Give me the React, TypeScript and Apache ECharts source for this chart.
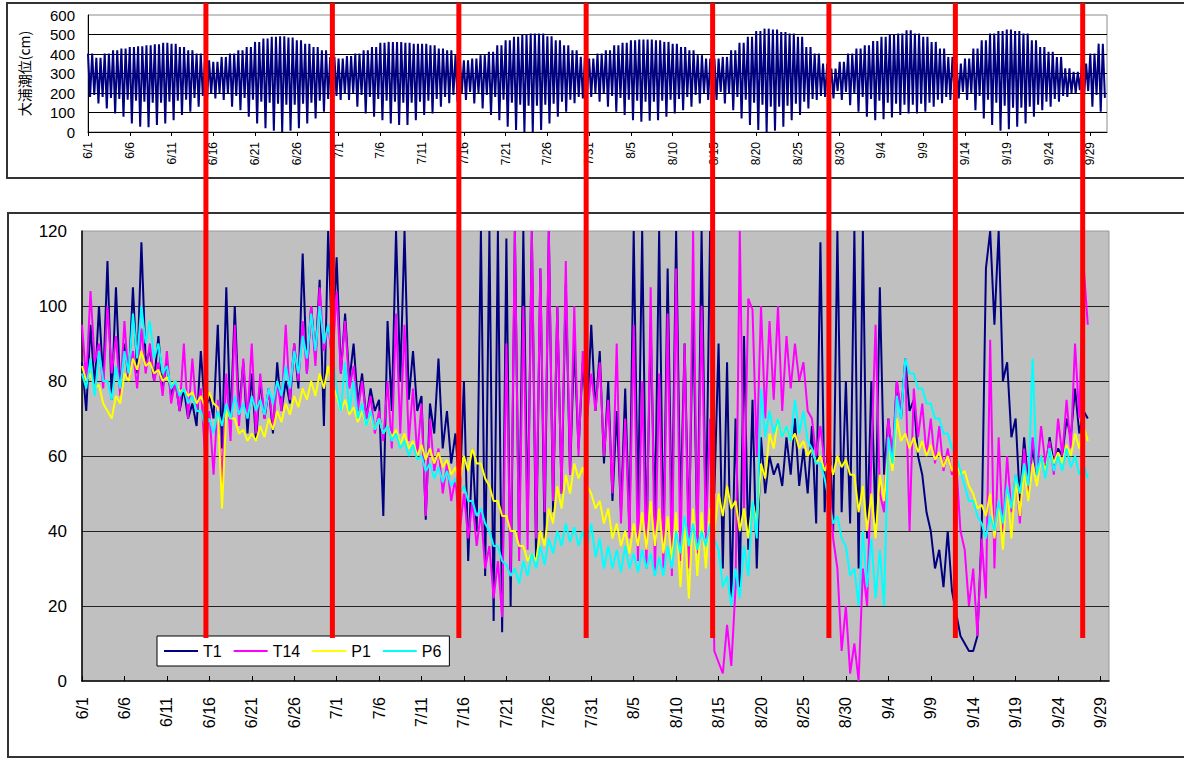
import { useEffect, useRef } from "react";
import * as echarts from "echarts";

// ---------- tick labels ----------
const dateLabels = [
  "6/1", "6/6", "6/11", "6/16", "6/21", "6/26", "7/1", "7/6", "7/11", "7/16", "7/21", "7/26",
  "7/31", "8/5", "8/10", "8/15", "8/20", "8/25", "8/30", "9/4", "9/9", "9/14", "9/19", "9/24", "9/29",
];
const LABEL_STEP = 5; // days between labels
const seriesNames = ["T1", "T14", "P1", "P6"];

// ---------- tide at Oura (cm): one value per day, d0 = 6/1 ----------
const tideHigh = [
  402, 380, 402, 419, 428, 436, 440, 445, 450, 457,
  453, 436, 419, 402, 368, 360, 385, 402, 419, 436,
  462, 479, 488, 491, 484, 470, 453, 436, 419, 385,
  377, 389, 402, 419, 436, 457, 462, 462, 458, 453,
  453, 445, 428, 419, 394, 368, 377, 394, 411, 445,
  470, 488, 501, 505, 505, 491, 470, 445, 419, 385,
  377, 402, 419, 445, 457, 470, 474, 474, 470, 462,
  453, 436, 419, 394, 377, 377, 385, 419, 457, 488,
  518, 530, 525, 513, 505, 488, 436, 402, 351, 325,
  360, 402, 428, 445, 467, 488, 501, 505, 522, 505,
  488, 462, 428, 385, 351, 377, 428, 470, 505, 518,
  525, 518, 505, 470, 436, 411, 385, 326, 309, 351,
  402, 453,
];
const tideLowDeep = [
  180, 147, 121, 95, 78, 44, 27, 24, 36, 44,
  61, 87, 104, 130, 164, 172, 164, 130, 112, 78,
  44, 19, 7, 0, 7, 19, 44, 70, 104, 138,
  164, 164, 130, 95, 78, 61, 44, 36, 36, 61,
  87, 95, 130, 147, 155, 164, 147, 121, 87, 61,
  27, 10, 0, 0, 10, 44, 78, 104, 147, 172,
  180, 155, 130, 104, 87, 61, 53, 58, 61, 78,
  95, 112, 130, 147, 164, 164, 147, 112, 70, 36,
  10, 0, 7, 27, 61, 87, 121, 164, 180, 172,
  164, 138, 104, 78, 61, 65, 75, 87, 95, 95,
  104, 130, 147, 164, 172, 164, 112, 70, 36, 7,
  14, 27, 44, 78, 112, 130, 155, 180, 198, 180,
  130, 104,
];
const tideLowShallow = [
  190, 180, 175, 170, 165, 160, 155, 150, 150, 155,
  160, 165, 175, 185, 195, 200, 195, 185, 175, 165,
  155, 150, 145, 140, 140, 145, 150, 160, 170, 185,
  195, 200, 190, 180, 170, 160, 155, 150, 150, 155,
  160, 170, 180, 190, 200, 205, 200, 190, 180, 165,
  150, 140, 135, 135, 140, 145, 155, 165, 180, 195,
  200, 195, 185, 175, 165, 160, 155, 155, 160, 165,
  170, 180, 190, 200, 205, 205, 195, 180, 165, 150,
  140, 130, 130, 135, 145, 155, 170, 185, 200, 210,
  205, 195, 180, 170, 160, 150, 145, 140, 140, 145,
  150, 165, 180, 195, 205, 200, 185, 165, 150, 135,
  125, 125, 130, 140, 155, 170, 185, 200, 215, 210,
  190, 175,
];

// ---------- water levels: two readings per day (0h, 12h) ----------
const t1Jun = [
  85, 72, 95, 78, 100, 80, 112, 75, 105, 78, 90, 80, 105, 82, 117, 85, 88, 80, 92, 78,
  85, 76, 80, 72, 78, 70, 74, 68, 88, 72, 76, 70, 95, 62, 105, 68, 100, 72, 85, 66,
  82, 64, 80, 70, 78, 66, 85, 72, 80, 74, 90, 78, 114, 82, 100, 86, 107, 68, 120, 88,
];
const t1Jul = [
  113, 82, 98, 80, 90, 74, 82, 70, 78, 72, 75, 44, 96, 72, 120, 80, 120, 75, 88, 72,
  76, 43, 74, 66, 86, 62, 72, 58, 66, 50, 80, 32, 62, 40, 120, 28, 120, 16, 120, 13,
  118, 20, 120, 35, 120, 40, 120, 32, 110, 38, 120, 45, 100, 50, 106, 55, 90, 62, 85, 70, 95, 72,
];
const t1Aug = [
  88, 58, 80, 48, 72, 45, 78, 40, 120, 44, 120, 36, 95, 42, 120, 34, 110, 40, 120, 45,
  90, 38, 100, 36, 120, 40, 120, 50, 90, 30, 85, 21, 70, 25, 92, 35, 75, 30, 65, 50,
  60, 55, 58, 52, 65, 55, 70, 52, 62, 50, 68, 42, 117, 45, 70, 40, 120, 45, 80, 42, 120, 30,
];
const t1Sep = [
  120, 38, 80, 42, 105, 55, 70, 58, 80, 70, 86, 72, 75, 60, 55, 45, 40, 30, 35, 25,
  40, 24, 18, 12, 10, 8, 8, 12, 40, 110, 120, 95, 120, 80, 85, 65, 70, 48, 65, 52,
  62, 55, 60, 56, 65, 58, 62, 60, 70, 65, 78, 66, 72, 70,
];

const t14Jun = [
  95, 80, 104, 85, 90, 78, 100, 82, 92, 76, 96, 80, 88, 78, 94, 82, 90, 80, 85, 76,
  88, 74, 80, 72, 90, 70, 86, 72, 78, 60, 72, 55, 75, 52, 82, 64, 95, 68, 86, 70,
  90, 66, 82, 70, 78, 68, 80, 72, 95, 75, 90, 80, 96, 82, 100, 84, 105, 88, 95, 85,
];
const t14Jul = [
  104, 82, 96, 78, 84, 72, 80, 70, 76, 66, 72, 64, 80, 62, 98, 66, 95, 64, 78, 60,
  74, 44, 70, 56, 62, 50, 58, 48, 54, 40, 50, 38, 48, 36, 45, 30, 36, 22, 32, 17,
  90, 28, 120, 32, 100, 35, 120, 38, 110, 45, 120, 48, 100, 50, 112, 55, 100, 60, 88, 70, 82, 72,
];
const t14Aug = [
  85, 60, 75, 50, 90, 42, 70, 38, 95, 32, 80, 30, 105, 28, 82, 30, 98, 28, 110, 32,
  90, 30, 120, 34, 100, 38, 70, 8, 5, 2, 15, 4, 25, 120, 45, 102, 99, 60, 100, 70,
  96, 75, 100, 72, 92, 78, 90, 80, 85, 72, 70, 60, 68, 58, 55, 38, 30, 8, 20, 2, 10, 0,
];
const t14Sep = [
  30, 20, 60, 95, 50, 45, 70, 60, 80, 72, 85, 40, 78, 65, 74, 60, 70, 58, 68, 56,
  62, 55, 58, 40, 35, 20, 30, 12, 38, 22, 91, 30, 65, 40, 60, 45, 55, 42, 62, 50,
  65, 55, 68, 58, 64, 55, 70, 60, 75, 62, 90, 70, 111, 95,
];

const p1Jun = [
  84, 80, 82, 78, 79, 74, 72, 70, 76, 74, 82, 80, 86, 83, 88, 84, 85, 82, 83, 80,
  81, 79, 80, 77, 78, 76, 77, 74, 76, 73, 77, 74, 73, 46, 72, 70, 70, 66, 67, 64,
  66, 64, 68, 65, 70, 67, 72, 69, 74, 71, 76, 73, 78, 75, 80, 76, 82, 78, 84, 79,
];
const p1Jul = [
  76, 72, 75, 71, 73, 69, 72, 68, 71, 67, 70, 66, 68, 65, 67, 63, 66, 62, 64, 60,
  63, 59, 62, 58, 61, 57, 59, 55, 57, 53, 60, 56, 62, 58, 58, 54, 52, 48, 48, 44,
  44, 40, 40, 36, 36, 32, 34, 32, 40, 36, 46, 42, 52, 46, 55, 50, 58, 54, 57, 52, 50, 46,
];
const p1Aug = [
  48, 42, 46, 38, 42, 36, 40, 34, 42, 36, 45, 35, 48, 36, 46, 34, 44, 32, 45, 25,
  42, 22, 46, 28, 45, 30, 46, 40, 50, 44, 52, 46, 48, 40, 46, 38, 48, 42, 58, 54,
  66, 62, 70, 65, 68, 64, 66, 62, 64, 60, 62, 58, 60, 56, 59, 55, 60, 57, 59, 55, 55, 45,
];
const p1Sep = [
  52, 40, 50, 38, 55, 48, 62, 56, 70, 64, 66, 62, 65, 61, 64, 60, 63, 59, 61, 57,
  60, 56, 58, 55, 56, 52, 50, 46, 47, 44, 50, 38, 48, 35, 52, 38, 54, 44, 56, 48,
  58, 52, 60, 56, 62, 58, 61, 58, 63, 60, 66, 62, 68, 64,
];

const p6Jun = [
  82, 78, 86, 76, 88, 80, 80, 75, 84, 78, 88, 82, 98, 86, 100, 90, 96, 86, 90, 82,
  84, 78, 80, 76, 78, 74, 76, 72, 72, 68, 70, 66, 72, 68, 74, 70, 76, 71, 74, 70,
  76, 72, 75, 71, 78, 74, 80, 76, 84, 78, 88, 82, 92, 86, 98, 88, 100, 90, 95, 88,
];
const p6Jul = [
  78, 72, 85, 72, 80, 70, 74, 68, 72, 67, 70, 66, 68, 64, 66, 62, 64, 60, 63, 59,
  60, 56, 58, 54, 57, 53, 56, 52, 54, 50, 52, 48, 48, 44, 46, 42, 40, 36, 36, 32,
  31, 28, 30, 26, 32, 28, 34, 30, 36, 31, 38, 34, 40, 36, 42, 37, 41, 36, 40, 35, 42, 33,
];
const p6Aug = [
  38, 30, 36, 30, 35, 29, 36, 30, 34, 29, 35, 30, 34, 28, 33, 28, 36, 30, 40, 34,
  44, 36, 42, 35, 40, 36, 42, 38, 35, 25, 28, 20, 30, 22, 36, 28, 48, 38, 78, 65,
  72, 66, 70, 65, 68, 64, 75, 66, 72, 64, 62, 58, 58, 54, 48, 42, 44, 38, 36, 28, 30, 20,
];
const p6Sep = [
  40, 25, 38, 22, 35, 20, 65, 58, 76, 70, 86, 82, 82, 78, 78, 74, 74, 70, 70, 66,
  66, 62, 60, 56, 52, 48, 48, 44, 42, 38, 44, 40, 48, 42, 52, 46, 55, 50, 58, 52,
  86, 55, 60, 54, 62, 56, 60, 56, 62, 57, 60, 55, 58, 54,
];

// red marker lines (in days from 6/1, on the lower chart's scale)
const redLineDays = [14.6, 29.5, 44.4, 59.4, 74.3, 88.0, 102.9, 117.9];
const RED_LINE_END_VALUE = 11.5;

const FONT = '"Liberation Sans", Arial, "Noto Sans CJK JP", sans-serif';

function halfDaily(values: number[]): [number, number][] {
  return values.map((v, i) => [i / 2, v]);
}

function tideSeries(): [number, number][] {
  const out: [number, number][] = [];
  for (let d = 0; d < tideHigh.length; d++) {
    out.push([d, tideHigh[d]]);
    if (tideLowDeep[d] !== undefined) out.push([d + 0.25, tideLowDeep[d]]);
    if (d < tideLowShallow.length) {
      out.push([d + 0.5, tideHigh[d]]);
      out.push([d + 0.75, tideLowShallow[d]]);
    }
  }
  return out.filter((p) => p[0] <= 122);
}

export default function App() {
  const ref = useRef<HTMLDivElement>(null);

  useEffect(() => {
    if (!ref.current) return;
    const chart = echarts.init(ref.current, undefined, { renderer: "svg" });
    const tickValues = dateLabels.map((_, i) => i * LABEL_STEP);
    const fmt = (v: number) => dateLabels[Math.round(v / LABEL_STEP)] ?? "";

    const t1 = halfDaily([...t1Jun, ...t1Jul, ...t1Aug, ...t1Sep]);
    const t14 = halfDaily([...t14Jun, ...t14Jul, ...t14Aug, ...t14Sep]);
    const p1 = halfDaily([...p1Jun, ...p1Jul, ...p1Aug, ...p1Sep]);
    const p6 = halfDaily([...p6Jun, ...p6Jul, ...p6Aug, ...p6Sep]);

    const lineSeries = (name: string, data: [number, number][], color: string) => ({
      name,
      type: "line",
      xAxisIndex: 1,
      yAxisIndex: 1,
      data,
      symbol: "none",
      lineStyle: { color, width: 2 },
      itemStyle: { color },
      clip: true,
    });

    chart.setOption({
      animation: false,
      backgroundColor: "#ffffff",
      textStyle: { fontFamily: FONT },
      grid: [
        { left: 88, top: 15, width: 1019, height: 117, show: true, backgroundColor: "#ffffff", borderColor: "#8c8c8c", borderWidth: 1 },
        { left: 82, top: 231, width: 1027, height: 450, show: true, backgroundColor: "#c0c0c0", borderColor: "#9a9a9a", borderWidth: 1 },
      ],
      legend: {
        data: seriesNames,
        left: 157,
        top: 636,
        orient: "horizontal",
        icon: "rect",
        itemWidth: 34,
        itemHeight: 2,
        itemGap: 12,
        padding: [7, 8, 7, 7],
        backgroundColor: "#ffffff",
        borderColor: "#000000",
        borderWidth: 1,
        borderRadius: 0,
        textStyle: { fontSize: 16, color: "#000", fontFamily: FONT },
      },
      xAxis: [
        {
          gridIndex: 0,
          type: "value",
          min: 0,
          max: 122,
          splitLine: { show: false },
          axisLine: { lineStyle: { color: "#000", width: 1 } },
          axisTick: { show: true, length: 4, customValues: tickValues, lineStyle: { color: "#000" } },
          axisLabel: {
            customValues: tickValues,
            formatter: fmt,
            rotate: 90,
            fontSize: 12,
            color: "#000",
            margin: 10,
            fontFamily: FONT,
          },
        },
        {
          gridIndex: 1,
          type: "value",
          min: 0,
          max: 121,
          splitLine: { show: false },
          axisLine: { lineStyle: { color: "#000", width: 1.5 } },
          axisTick: { show: true, inside: true, length: 5, customValues: tickValues, lineStyle: { color: "#000" } },
          axisLabel: {
            customValues: tickValues,
            formatter: fmt,
            rotate: 90,
            fontSize: 16,
            color: "#000",
            margin: 16,
            fontFamily: FONT,
          },
        },
      ],
      yAxis: [
        {
          gridIndex: 0,
          type: "value",
          min: 0,
          max: 600,
          interval: 100,
          name: "大浦潮位(cm)",
          nameLocation: "middle",
          nameGap: 57,
          nameTextStyle: { fontSize: 14, color: "#000", fontFamily: '"Noto Sans CJK JP", sans-serif' },
          axisLine: { show: true, lineStyle: { color: "#000", width: 1 } },
          axisTick: { show: false },
          axisLabel: { fontSize: 15, color: "#000", margin: 13, fontFamily: FONT },
          splitLine: { show: true, showMaxLine: false, showMinLine: false, lineStyle: { color: "#000", width: 1 } },
        },
        {
          gridIndex: 1,
          type: "value",
          min: 0,
          max: 120,
          interval: 20,
          axisLine: { show: true, lineStyle: { color: "#000", width: 1.5 } },
          axisTick: { show: false },
          axisLabel: { fontSize: 17, color: "#000", margin: 15, fontFamily: FONT },
          splitLine: { show: true, showMaxLine: false, showMinLine: false, lineStyle: { color: "#222", width: 1 } },
        },
      ],
      series: [
        {
          name: "大浦潮位",
          type: "line",
          xAxisIndex: 0,
          yAxisIndex: 0,
          data: tideSeries(),
          symbol: "none",
          lineStyle: { color: "#000080", width: 2 },
          clip: true,
        },
        lineSeries("T1", t1, "#000080"),
        lineSeries("T14", t14, "#ff00ff"),
        lineSeries("P1", p1, "#ffff00"),
        lineSeries("P6", p6, "#00ffff"),
      ],
    });

    const yEnd = chart.convertToPixel({ yAxisIndex: 1 }, RED_LINE_END_VALUE) as number;
    const redLines = redLineDays.map((d) => {
      const x = chart.convertToPixel({ xAxisIndex: 1 }, d) as number;
      return {
        type: "line",
        silent: true,
        z: 100,
        shape: { x1: x, y1: 3, x2: x, y2: yEnd },
        style: { stroke: "#ff0000", lineWidth: 5 },
      };
    });

    chart.setOption({
      graphic: [
        {
          type: "rect",
          silent: true,
          z: -10,
          shape: { x: 7, y: 3, width: 1200, height: 175 },
          style: { fill: "none", stroke: "#333", lineWidth: 2 },
        },
        {
          type: "rect",
          silent: true,
          z: -10,
          shape: { x: 8, y: 213, width: 1200, height: 544 },
          style: { fill: "none", stroke: "#333", lineWidth: 2 },
        },
        ...redLines,
      ],
    });

    return () => chart.dispose();
  }, []);

  return (
    <div
      ref={ref}
      style={{ position: "absolute", left: 0, top: 0, width: 1184, height: 758 }}
    />
  );
}
